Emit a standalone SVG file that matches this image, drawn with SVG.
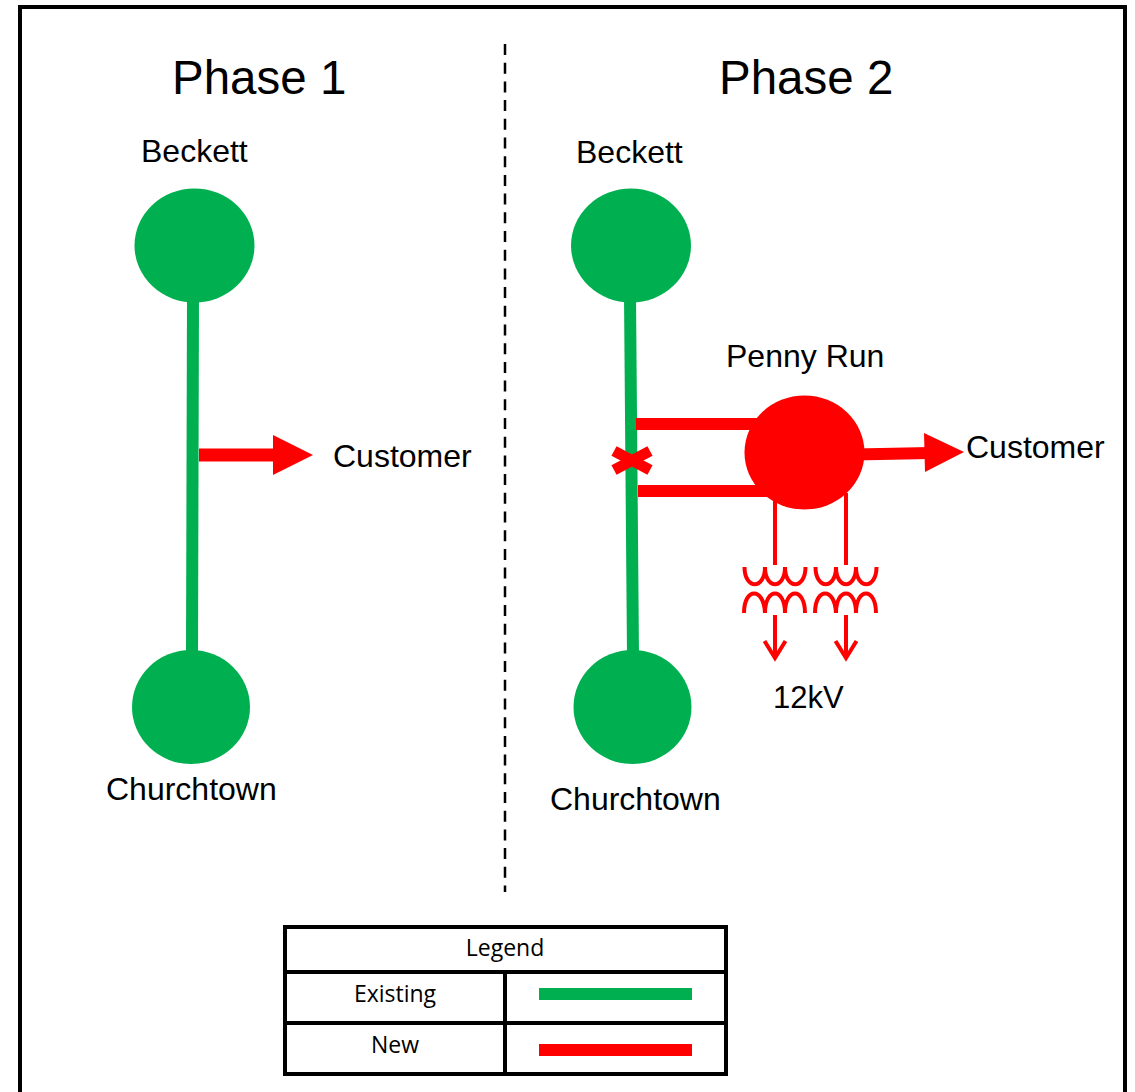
<svg xmlns="http://www.w3.org/2000/svg" width="1135" height="1092" viewBox="0 0 1135 1092">
<style>
.t{font-family:"Liberation Sans",Arial,sans-serif;fill:#000}
.h{font-size:47.500px}.l{font-size:32px}
.g{font-family:"Open Sans","Noto Sans",sans-serif;font-size:23px;fill:#000;text-anchor:middle}
.gf{fill:#00b050}.rf{fill:#f00}
.gl{stroke:#00b050;stroke-width:12;fill:none}
.rl{stroke:#f00;stroke-width:12;fill:none}
.thin{stroke:#f00;stroke-width:4;fill:none}
.coil{stroke:#f00;stroke-width:4;fill:none}
.k{stroke:#000;stroke-width:4;fill:none}
</style>
<defs>
<g id="xf">
<path class="thin" d="M0 -10V62"/>
<path class="coil" d="M-30.500 64C-30.500 87-10 87-10 64C-10 87 10 87 10 64C10 87 30.500 87 30.500 64"/>
<path class="coil" d="M-31 110C-31 84-11 84-10 110C-10 84 10 84 10 110C10 84 30 84 30 110"/>
<path class="thin" d="M0 112V155"/>
<path class="thin" d="M-10.500 138L0 155L10.500 138"/>
</g>
</defs>
<rect x="20" y="7" width="1105" height="1100" fill="#fff" stroke="#000" stroke-width="4"/>
<path d="M505 44V892" stroke="#000" stroke-width="2.500" stroke-dasharray="11 7.700" fill="none"/>
<g id="connectors">
<path class="gl" d="M193 296L192 656"/>
<path class="gl" d="M630 296L633 656"/>
<path class="rl" d="M199 455H276" style="stroke-width:13"/>
<polygon class="rf" points="273,435 313,455 273,475"/>
<path class="rl" d="M636 424H765"/>
<path class="rl" d="M638 491H780"/>
<path class="rl" d="M855 454.500L930 453"/>
<polygon class="rf" points="924,433 964,452 925,472"/>
<path class="rl" d="M614 451L650 470" style="stroke-width:11"/>
<path class="rl" d="M614 470L650 451" style="stroke-width:11"/>
</g>
<g id="beckett1"><ellipse class="gf" cx="194.500" cy="245.500" rx="60" ry="57"/><text class="t l" x="141" y="162">Beckett</text></g>
<g id="churchtown1"><ellipse class="gf" cx="191" cy="707" rx="59" ry="57"/><text class="t l" x="106" y="800">Churchtown</text></g>
<g id="beckett2"><ellipse class="gf" cx="631" cy="245.500" rx="60" ry="57"/><text class="t l" x="576" y="163">Beckett</text></g>
<g id="churchtown2"><ellipse class="gf" cx="632.500" cy="707" rx="59" ry="57"/><text class="t l" x="550" y="810">Churchtown</text></g>
<g id="pennyrun"><ellipse class="rf" cx="804.500" cy="452.500" rx="60" ry="57"/><text class="t l" x="726" y="367">Penny Run</text></g>
<g id="transformer1"><use href="#xf" x="775" y="503"/></g>
<g id="transformer2"><use href="#xf" x="846" y="503"/></g>
<g id="labels">
<text class="t h" x="172" y="94">Phase 1</text>
<text class="t h" x="719" y="94">Phase 2</text>
<text class="t l" x="333" y="467">Customer</text>
<text class="t l" x="966" y="458">Customer</text>
<text class="t" style="font-size:31px" x="773" y="708">12kV</text>
</g>
<g id="legend">
<rect class="k" x="285" y="927" width="441" height="147"/>
<path class="k" d="M285 972H726M285 1023H726M505 972V1074"/>
<text class="g" x="505" y="956">Legend</text>
<text class="g" x="395" y="1002">Existing</text>
<text class="g" x="395" y="1053">New</text>
<rect class="gf" x="539" y="988" width="153" height="12"/>
<rect class="rf" x="539" y="1044" width="153" height="12"/>
</g>
</svg>
